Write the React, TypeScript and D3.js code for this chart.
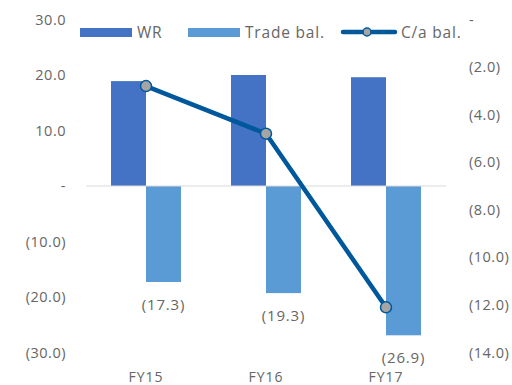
import React, { useRef, useEffect } from 'react';
import * as d3 from 'd3';

const categories = ['FY15', 'FY16', 'FY17'];
const wrValues = [18.9, 20.0, 19.6];
const tradeValues = [-17.3, -19.3, -26.9];
const caValues = [-2.8, -4.8, -12.1];
const leftTicks = [30, 20, 10, 0, -10, -20, -30];
const rightTicks = [0, -2, -4, -6, -8, -10, -12, -14];

const fmt = (v: number) => {
  if (v === 0) return '-';
  const s = Math.abs(v).toFixed(1);
  return v < 0 ? `(${s})` : s;
};

const App = () => {
  const ref = useRef<SVGSVGElement>(null);

  useEffect(() => {
    const svg = d3.select(ref.current);
    svg.selectAll('*').remove();
    const font = '"Open Sans", sans-serif';
    const grey = '#666666';

    const x = d3.scaleBand().domain(categories).range([86, 446]);
    const inner = d3.scaleBand().domain(['wr', 'trade']).range([0, 70]);
    const yL = d3.scaleLinear().domain([-30, 30]).range([352.5, 19.5]);
    const yR = d3.scaleLinear().domain([-14, 0]).range([352.5, 19.5]);

    // left axis
    svg.append('g').selectAll('text').data(leftTicks).join('text')
      .attr('x', 66).attr('y', d => yL(d) + 5)
      .attr('text-anchor', 'end').attr('font-size', 14.5).attr('letter-spacing', 0.5)
      .attr('font-family', font).attr('fill', grey).text(d => fmt(d));

    // right axis
    svg.append('g').selectAll('text').data(rightTicks).join('text')
      .attr('x', 469).attr('y', d => yR(d) + 5)
      .attr('text-anchor', 'start').attr('font-size', 14.5).attr('letter-spacing', 0.5)
      .attr('font-family', font).attr('fill', grey).text(d => fmt(d));

    // bars
    const g = svg.append('g');
    categories.forEach((c, i) => {
      const x0 = x(c)! + (x.bandwidth() - 70) / 2;
      g.append('rect').attr('x', x0 + inner('wr')!).attr('width', inner.bandwidth())
        .attr('y', yL(wrValues[i])).attr('height', yL(0) - yL(wrValues[i]))
        .attr('fill', '#4472C4');
      g.append('rect').attr('x', x0 + inner('trade')!).attr('width', inner.bandwidth())
        .attr('y', yL(0)).attr('height', yL(tradeValues[i]) - yL(0))
        .attr('fill', '#5B9BD5');
      g.append('text')
        .attr('x', x0 + inner('trade')! + inner.bandwidth() / 2)
        .attr('y', yL(tradeValues[i]) + 28)
        .attr('text-anchor', 'middle').attr('font-size', 15).attr('letter-spacing', 0.8)
        .attr('font-family', font).attr('fill', grey).text(fmt(tradeValues[i]));
      g.append('text').attr('x', x(c)! + x.bandwidth() / 2).attr('y', 382)
        .attr('text-anchor', 'middle').attr('font-size', 14).attr('letter-spacing', 1)
        .attr('font-family', font).attr('fill', grey).text(c);
    });

    // zero line
    svg.append('line').attr('x1', 86).attr('x2', 446).attr('y1', yL(0)).attr('y2', yL(0))
      .attr('stroke', '#d9d9d9').attr('stroke-width', 1);

    // line
    const cx = (c: string) => x(c)! + x.bandwidth() / 2;
    const line = d3.line<number>().x((_, i) => cx(categories[i])).y(d => yR(d));
    svg.append('path').datum(caValues).attr('d', line).attr('fill', 'none')
      .attr('stroke', '#00589C').attr('stroke-width', 4.5).attr('stroke-linejoin', 'round');
    svg.append('g').selectAll('circle').data(caValues).join('circle')
      .attr('cx', (_, i) => cx(categories[i])).attr('cy', d => yR(d)).attr('r', 5.5)
      .attr('fill', '#A5A5A5').attr('stroke', '#00589C').attr('stroke-width', 1.5);

    // legend
    const lg = svg.append('g').attr('font-size', 15.5).attr('letter-spacing', 0.8)
      .attr('font-family', font).attr('fill', grey);
    lg.append('rect').attr('x', 80).attr('y', 28).attr('width', 52).attr('height', 9).attr('fill', '#4472C4');
    lg.append('text').attr('x', 137).attr('y', 38).text('WR');
    lg.append('rect').attr('x', 188).attr('y', 28).attr('width', 52).attr('height', 9).attr('fill', '#5B9BD5');
    lg.append('text').attr('x', 245).attr('y', 38).text('Trade bal.');
    lg.append('line').attr('x1', 343).attr('x2', 395).attr('y1', 32).attr('y2', 32)
      .attr('stroke', '#00589C').attr('stroke-width', 4.5).attr('stroke-linecap', 'round');
    lg.append('circle').attr('cx', 367).attr('cy', 32).attr('r', 4)
      .attr('fill', '#A5A5A5').attr('stroke', '#00589C').attr('stroke-width', 1.5);
    lg.append('text').attr('x', 401).attr('y', 38).text('C/a bal.');
  }, []);

  return (
    <div style={{ position: 'absolute', left: 0, top: 0 }}>
      <svg ref={ref} width={512} height={385} style={{ display: 'block', background: 'white' }} />
    </div>
  );
};

export default App;
